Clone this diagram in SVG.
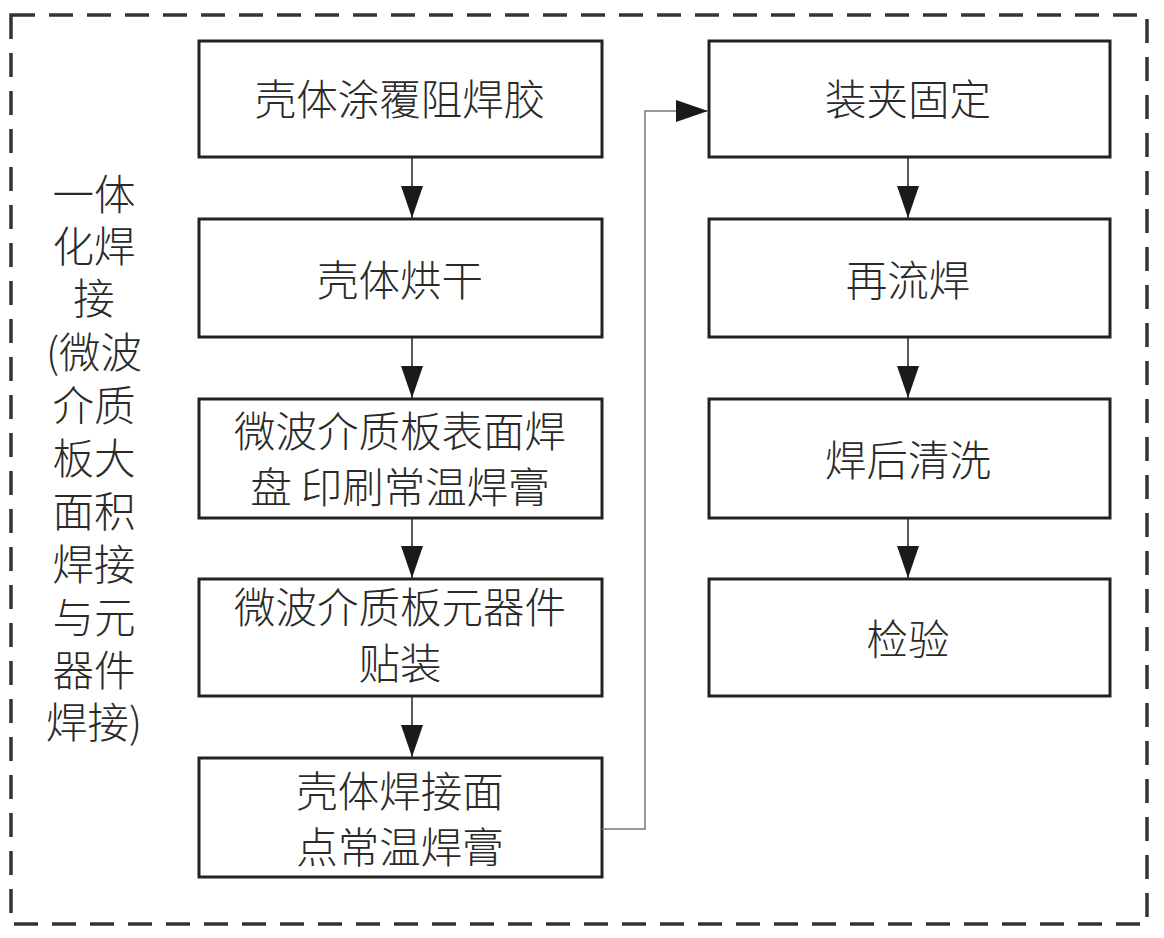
<svg xmlns="http://www.w3.org/2000/svg" width="1164" height="938" viewBox="0 0 1164 938">
<defs>
<marker id="ah2" markerWidth="32" markerHeight="22" viewBox="0 0 32 22" refX="32" refY="11" orient="auto" markerUnits="userSpaceOnUse">
<path d="M0,0 L32,11 L0,22 Z" fill="#1a1a1a"/>
</marker>
<style>
.box{fill:#fff;stroke:#222;stroke-width:3}
.t{font-family:"Noto Sans CJK SC","Liberation Sans",sans-serif;font-size:41.5px;fill:#2a2a2a;text-anchor:middle;dominant-baseline:central;font-weight:300}
.c{stroke:#222;stroke-width:1.5;fill:none}
.g{stroke:#777;stroke-width:1.5;fill:none}
</style>
</defs>
<rect width="1164" height="938" fill="#fff"/>
<rect x="11" y="15" width="1136" height="909" fill="none" stroke="#333" stroke-width="3.5" stroke-dasharray="24 14"/>
<g id="label">
<text class="t"><tspan x="94" y="192">一体</tspan><tspan x="94" y="244">化焊</tspan><tspan x="94" y="296">接</tspan><tspan x="94" y="350">(微波</tspan><tspan x="94" y="403">介质</tspan><tspan x="94" y="456">板大</tspan><tspan x="94" y="509">面积</tspan><tspan x="94" y="562">焊接</tspan><tspan x="94" y="615">与元</tspan><tspan x="94" y="668">器件</tspan><tspan x="94" y="720">焊接)</tspan></text>
</g>
<g id="n1"><rect class="box" x="199" y="41" width="403" height="116"/><text class="t" x="400" y="97">壳体涂覆阻焊胶</text></g>
<g id="n2"><rect class="box" x="199" y="219" width="403" height="118"/><text class="t" x="400" y="278">壳体烘干</text></g>
<g id="n3"><rect class="box" x="199" y="399" width="403" height="119"/><text class="t" x="400" y="429">微波介质板表面焊</text><text class="t" x="400" y="485">盘 印刷常温焊膏</text></g>
<g id="n4"><rect class="box" x="199" y="579" width="403" height="117"/><text class="t" x="400" y="605">微波介质板元器件</text><text class="t" x="400" y="661">贴装</text></g>
<g id="n5"><rect class="box" x="199" y="758" width="403" height="119"/><text class="t" x="400" y="789">壳体焊接面</text><text class="t" x="400" y="845">点常温焊膏</text></g>
<g id="n6"><rect class="box" x="709" y="41" width="401" height="116"/><text class="t" x="908" y="97">装夹固定</text></g>
<g id="n7"><rect class="box" x="709" y="219" width="401" height="118"/><text class="t" x="908" y="278">再流焊</text></g>
<g id="n8"><rect class="box" x="709" y="399" width="401" height="119"/><text class="t" x="908" y="458">焊后清洗</text></g>
<g id="n9"><rect class="box" x="709" y="579" width="401" height="117"/><text class="t" x="908" y="637">检验</text></g>
<g id="connectors">
<line class="c" x1="412" y1="157" x2="412" y2="218" marker-end="url(#ah2)"/>
<line class="c" x1="412" y1="337" x2="412" y2="398" marker-end="url(#ah2)"/>
<line class="c" x1="412" y1="518" x2="412" y2="578" marker-end="url(#ah2)"/>
<line class="c" x1="412" y1="696" x2="412" y2="757" marker-end="url(#ah2)"/>
<line class="c" x1="908" y1="157" x2="908" y2="218" marker-end="url(#ah2)"/>
<line class="c" x1="908" y1="337" x2="908" y2="398" marker-end="url(#ah2)"/>
<line class="c" x1="908" y1="518" x2="908" y2="578" marker-end="url(#ah2)"/>
<polyline class="g" points="602,829 645,829 645,111 708,111" marker-end="url(#ah2)"/>
</g>
</svg>
